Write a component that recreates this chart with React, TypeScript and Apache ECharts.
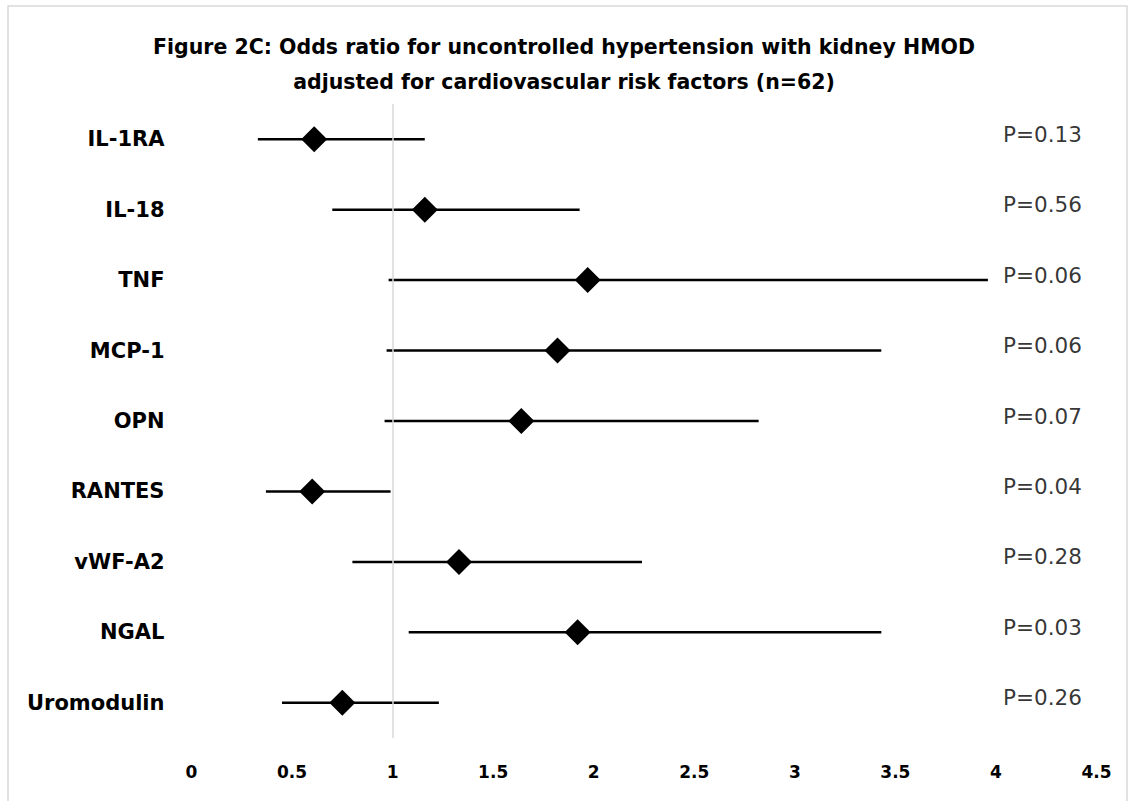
import React, { useEffect, useRef } from "react";
import * as echarts from "echarts";

// Biomarkers, top to bottom
const markers = ["IL-1RA", "IL-18", "TNF", "MCP-1", "OPN", "RANTES", "vWF-A2", "NGAL", "Uromodulin"];
// Odds ratio point estimates
const oddsRatio = [0.61, 1.16, 1.97, 1.82, 1.64, 0.6, 1.33, 1.92, 0.75];
// 95% confidence interval bounds
const ciLower = [0.33, 0.7, 0.98, 0.97, 0.96, 0.37, 0.8, 1.08, 0.45];
const ciUpper = [1.16, 1.93, 3.96, 3.43, 2.82, 0.99, 2.24, 3.43, 1.23];
// P-value annotations
const pValues = ["P=0.13", "P=0.56", "P=0.06", "P=0.06", "P=0.07", "P=0.04", "P=0.28", "P=0.03", "P=0.26"];

// Axis range
const xMin = 0;
const xMax = 4.5;
const xStep = 0.5;
const nullEffect = 1;
const pLabelX = 4.035;

const FONT = '"DejaVu Sans", sans-serif';
const TITLE =
  "Figure 2C: Odds ratio for uncontrolled hypertension with kidney HMOD\nadjusted for cardiovascular risk factors (n=62)";

export default function App() {
  const ref = useRef<HTMLDivElement>(null);

  useEffect(() => {
    if (!ref.current) return;
    const chart = echarts.init(ref.current, undefined, { renderer: "svg" });

    const option: any = {
      animation: false,
      backgroundColor: "#ffffff",
      title: {
        text: TITLE,
        left: "center",
        top: 24,
        textStyle: {
          fontFamily: FONT,
          fontWeight: "bold",
          fontSize: 20.5,
          lineHeight: 35,
          color: "#000",
        },
      },
      graphic: [
        {
          type: "rect",
          silent: true,
          z: -1,
          shape: { x: 8, y: 6, width: 1119, height: 810 },
          style: { fill: "none", stroke: "#d9d9d9", lineWidth: 1.5 },
        },
      ],
      grid: { left: 191.5, right: 31.5, top: 104, bottom: 63, containLabel: false },
      xAxis: {
        type: "value",
        min: xMin,
        max: xMax,
        interval: xStep,
        axisLine: { show: false },
        axisTick: { show: false },
        splitLine: { show: false },
        axisLabel: {
          fontFamily: FONT,
          fontWeight: "bold",
          fontSize: 17,
          color: "#000",
          margin: 25,
        },
      },
      yAxis: {
        type: "category",
        data: markers,
        inverse: true,
        axisLine: { show: false },
        axisTick: { show: false },
        splitLine: { show: false },
        axisLabel: {
          fontFamily: FONT,
          fontWeight: "bold",
          fontSize: 21,
          color: "#000",
          margin: 27,
        },
      },
      series: [
        {
          name: "CI",
          type: "custom",
          z: 2,
          data: markers.map((_, i) => [ciLower[i], ciUpper[i], i]),
          encode: { x: [0, 1], y: 2 },
          renderItem: (_params: any, api: any) => {
            const a = api.coord([api.value(0), api.value(2)]);
            const b = api.coord([api.value(1), api.value(2)]);
            return {
              type: "line",
              shape: { x1: a[0], y1: a[1], x2: b[0], y2: b[1] },
              style: { stroke: "#000", lineWidth: 2.5 },
            };
          },
        },
        {
          name: "Reference",
          type: "line",
          z: 3,
          data: [],
          markLine: {
            silent: true,
            symbol: ["none", "none"],
            label: { show: false },
            lineStyle: { color: "#d9d9d9", width: 1.5, type: "solid" },
            data: [{ xAxis: nullEffect }],
          },
        },
        {
          name: "Odds ratio",
          type: "scatter",
          z: 4,
          symbol: "diamond",
          symbolSize: 26,
          itemStyle: { color: "#000", opacity: 1 },
          data: markers.map((m, i) => [oddsRatio[i], m]),
        },
        {
          name: "P value",
          type: "scatter",
          z: 5,
          symbolSize: 0,
          data: markers.map((m, i) => [pLabelX, m, pValues[i]]),
          label: {
            show: true,
            position: "right",
            distance: 0,
            offset: [0, -5],
            formatter: (p: any) => p.value[2],
            fontFamily: FONT,
            fontSize: 21.5,
            color: "#000",
          },
        },
      ],
    };

    chart.setOption(option);
    return () => chart.dispose();
  }, []);

  return (
    <div
      ref={ref}
      style={{ position: "absolute", left: 0, top: 0, width: 1128, height: 801 }}
    />
  );
}
